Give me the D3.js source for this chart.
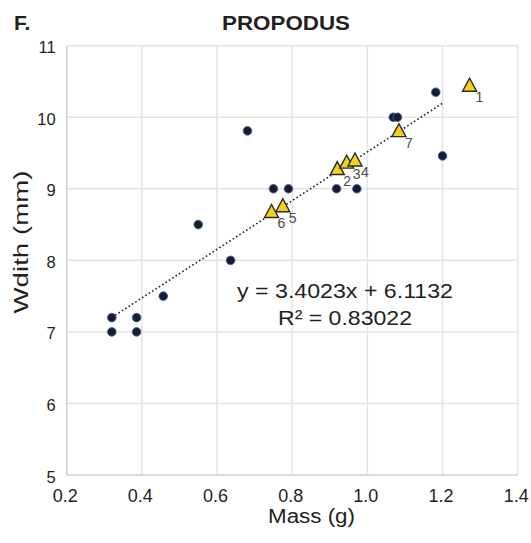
<!DOCTYPE html>
<html>
<head>
<meta charset="utf-8">
<script src="https://cdn.jsdelivr.net/npm/d3@7.9.0/dist/d3.min.js"></script>
<style>
  body { margin: 0; background: #fff; }
  svg { display: block; font-family: "Liberation Sans", Arial, Helvetica, sans-serif; }
</style>
</head>
<body>
<svg id="chart" width="531" height="543"></svg>
<script>
// other specimens (circles)
const massAll = [0.32, 0.32, 0.386, 0.386, 0.457, 0.55, 0.636, 0.681, 0.75, 0.79, 0.918, 0.972, 1.069, 1.08, 1.182, 1.2];
const widthAll = [7.0, 7.2, 7.0, 7.2, 7.5, 8.5, 8.0, 9.81, 9.0, 9.0, 9.0, 9.0, 10.0, 10.0, 10.35, 9.46];

// numbered specimens (triangles)
const tagLabels = ['1', '2', '3', '4', '5', '6', '7'];
const tagMass = [1.272, 0.920, 0.945, 0.967, 0.775, 0.745, 1.084];
const tagWidth = [10.455, 9.29, 9.38, 9.41, 8.77, 8.69, 9.82];

const xTicks = [0.2, 0.4, 0.6, 0.8, 1.0, 1.2, 1.4];
const yTicks = [5, 6, 7, 8, 9, 10, 11];

// linear fit shown on the chart
const slope = 3.4023;
const intercept = 6.1132;
const r2 = 0.83022;

const W = 531, H = 543;
const margin = { top: 45.7, right: 13.3, bottom: 68, left: 66.7 };

const svg = d3.select('#chart');

const x = d3.scaleLinear().domain([0.2, 1.4]).range([margin.left, W - margin.right]);
const y = d3.scaleLinear().domain([5, 11]).range([H - margin.bottom, margin.top]);

const textColor = '#231f20';

// grid
const grid = svg.append('g');
grid.selectAll('line.vx')
    .data(xTicks.slice(1))
    .join('line')
    .attr('x1', d => x(d)).attr('x2', d => x(d))
    .attr('y1', y(5)).attr('y2', y(11))
    .attr('stroke', '#e4e4e4').attr('stroke-width', 1.5);
grid.selectAll('line.hy')
    .data(yTicks.slice(1))
    .join('line')
    .attr('x1', x(0.2)).attr('x2', x(1.4))
    .attr('y1', d => y(d)).attr('y2', d => y(d))
    .attr('stroke', '#e4e4e4').attr('stroke-width', 1.5);

// axes lines (left and bottom a bit darker)
svg.append('line')
    .attr('x1', x(0.2)).attr('x2', x(0.2))
    .attr('y1', y(5)).attr('y2', y(11))
    .attr('stroke', '#cfcfcf').attr('stroke-width', 1.5);
svg.append('line')
    .attr('x1', x(0.2)).attr('x2', x(1.4))
    .attr('y1', y(5)).attr('y2', y(5))
    .attr('stroke', '#cfcfcf').attr('stroke-width', 1.5);

// tick labels
svg.append('g')
    .selectAll('text')
    .data(xTicks)
    .join('text')
    .attr('x', d => x(d) - 1.5)
    .attr('y', y(5) + 27)
    .attr('text-anchor', 'middle')
    .attr('font-size', 18)
    .attr('fill', textColor)
    .text(d => d.toFixed(1));

svg.append('g')
    .selectAll('text')
    .data(yTicks)
    .join('text')
    .attr('x', margin.left - 11)
    .attr('y', d => y(d) + 7.5)
    .attr('text-anchor', 'end')
    .attr('font-size', 16.5)
    .attr('fill', textColor)
    .text(d => d);

// axis titles
svg.append('text')
    .attr('x', 311.5)
    .attr('y', 523)
    .attr('text-anchor', 'middle')
    .attr('font-size', 20)
    .attr('textLength', 87)
    .attr('lengthAdjust', 'spacingAndGlyphs')
    .attr('fill', textColor)
    .text('Mass (g)');

svg.append('text')
    .attr('transform', 'translate(28,242) rotate(-90)')
    .attr('text-anchor', 'middle')
    .attr('font-size', 21)
    .attr('textLength', 143)
    .attr('lengthAdjust', 'spacingAndGlyphs')
    .attr('fill', textColor)
    .text('Wdith (mm)');

// title and panel letter
svg.append('text')
    .attr('x', 286)
    .attr('y', 30)
    .attr('text-anchor', 'middle')
    .attr('font-size', 20.5)
    .attr('font-weight', 'bold')
    .attr('textLength', 128)
    .attr('lengthAdjust', 'spacingAndGlyphs')
    .attr('fill', textColor)
    .text('PROPODUS');

svg.append('text')
    .attr('x', 14)
    .attr('y', 30)
    .attr('font-size', 21)
    .attr('font-weight', 'bold')
    .attr('fill', textColor)
    .text('F.');

// trend line across the circle points
const xExt = d3.extent(massAll);
svg.append('line')
    .attr('x1', x(xExt[0])).attr('y1', y(slope * xExt[0] + intercept))
    .attr('x2', x(xExt[1])).attr('y2', y(slope * xExt[1] + intercept))
    .attr('stroke', '#222')
    .attr('stroke-width', 1.6)
    .attr('stroke-dasharray', '1.6,2.4');

// circles
svg.append('g')
    .selectAll('circle')
    .data(massAll.map((m, i) => ({ m, w: widthAll[i] })))
    .join('circle')
    .attr('cx', d => x(d.m))
    .attr('cy', d => y(d.w))
    .attr('r', 4.3)
    .attr('fill', '#1b1c2b')
    .attr('stroke', '#3a64b0')
    .attr('stroke-width', 0.9);

// triangles + numbers
const tags = tagLabels.map((t, i) => ({ t, m: tagMass[i], w: tagWidth[i] }));
const tri = (cx, cy) => `M${cx - 7},${cy + 6.5}L${cx + 7},${cy + 6.5}L${cx},${cy - 6.5}Z`;

const tg = svg.append('g');
tg.selectAll('path')
    .data(tags)
    .join('path')
    .attr('d', d => tri(x(d.m), y(d.w)))
    .attr('fill', '#f7d117')
    .attr('stroke', '#2a2a2a')
    .attr('stroke-width', 1.4)
    .attr('stroke-linejoin', 'miter');

tg.selectAll('text')
    .data(tags)
    .join('text')
    .attr('x', d => x(d.m) + 6)
    .attr('y', d => y(d.w) + 17.5)
    .attr('font-size', 14)
    .attr('fill', '#4a4a4a')
    .text(d => d.t);

// equation
svg.append('text')
    .attr('x', 345)
    .attr('y', 298)
    .attr('text-anchor', 'middle')
    .attr('font-size', 20)
    .attr('textLength', 216)
    .attr('lengthAdjust', 'spacingAndGlyphs')
    .attr('fill', textColor)
    .text(`y = ${slope}x + ${intercept}`);

svg.append('text')
    .attr('x', 345)
    .attr('y', 325)
    .attr('text-anchor', 'middle')
    .attr('font-size', 20)
    .attr('textLength', 134)
    .attr('lengthAdjust', 'spacingAndGlyphs')
    .attr('fill', textColor)
    .text(`R² = ${r2}`);
</script>
</body>
</html>
